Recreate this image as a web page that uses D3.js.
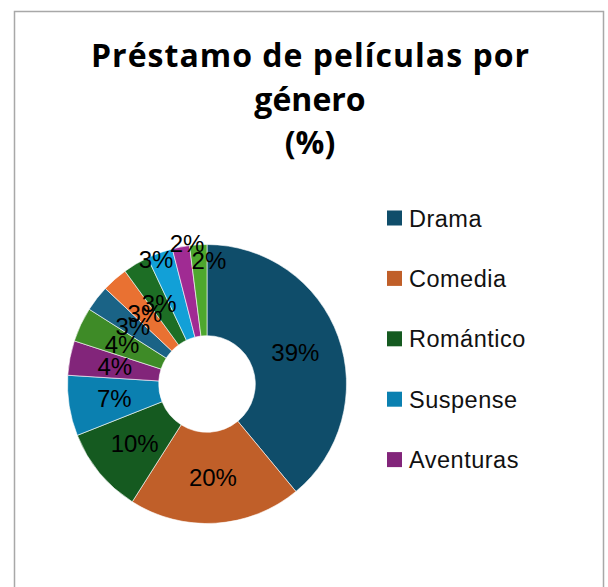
<html>
  <head>
    <style>
    body {
      margin: 0px;
      background: white;
    }
    </style>
  </head>
  <body>
    <div id="elm"></div>

    <script src="https://d3js.org/d3.v7.min.js"></script>
    <script>
    'use strict';

    // chart data
    var genres = ['Drama', 'Comedia', 'Romántico', 'Suspense', 'Aventuras',
                  'Género 6', 'Género 7', 'Género 8', 'Género 9', 'Género 10', 'Género 11', 'Género 12'];
    var shares = [39, 20, 10, 7, 4, 4, 3, 3, 3, 3, 2, 2];
    var colors = ['#0F4D6A', '#C05F29', '#155A20', '#0B80B0', '#82257A', '#3E8B27',
                  '#1A6386', '#E97132', '#1D6E25', '#12A0D7', '#A02B93', '#4EA72E'];
    var titleLines = ['Préstamo de películas por', 'género', '(%)'];
    var legendShown = 5; // excel only had room for the first five entries

    // labels excel pushed out of the crowded top-left corner (radius px, angle shift deg)
    var labelNudge = { 9: [135, -2.4], 10: [142, 2.7], 11: [124, 4.5] };

    var W = 608, H = 587;
    var cx = 207, cy = 384, rOuter = 139.5, rInner = 48.3;

    var svg = d3.select('#elm').append('svg')
      .attr('width', W).attr('height', H)
      .style('display', 'block');

    svg.append('rect').attr('width', W).attr('height', H).attr('fill', 'white');

    // chart frame (bottom edge is cut off by the screenshot)
    svg.append('path')
      .attr('d', 'M14.5,' + (H + 5) + 'V11.5H603.5V' + (H + 5))
      .attr('fill', 'none')
      .attr('stroke', '#A8A8A8')
      .attr('stroke-width', 1.5);

    // title
    var title = svg.append('text')
      .attr('text-anchor', 'middle')
      .attr('font-family', '"Open Sans", Roboto, sans-serif')
      .attr('font-weight', 700)
      .attr('font-size', 32)
      .attr('fill', '#000');
    title.selectAll('tspan').data(titleLines).join('tspan')
      .attr('x', 310)
      .attr('y', function(d, i) { return 67 + i * 43.5; })
      .text(function(d) { return d; });

    // first line is a bit wider in the original (Aptos)
    title.select('tspan')
      .attr('textLength', 438)
      .attr('lengthAdjust', 'spacing');

    var color = d3.scaleOrdinal().domain(genres).range(colors);

    var pie = d3.pie().sort(null).value(function(d, i) { return shares[i]; });
    var arcs = pie(genres);

    var arc = d3.arc().innerRadius(rInner).outerRadius(rOuter);

    var g = svg.append('g').attr('transform', 'translate(' + cx + ',' + cy + ')');

    g.selectAll('path.slice').data(arcs).join('path')
      .attr('class', 'slice')
      .attr('d', arc)
      .attr('fill', function(d) { return color(d.data); })
      .attr('stroke', 'white')
      .attr('stroke-width', 0.6);

    var labelPos = function(d, i) {
      var mid = (d.startAngle + d.endAngle) / 2;
      var r = (rInner + rOuter) / 2;
      if (labelNudge[i]) {
        r = labelNudge[i][0];
        mid += labelNudge[i][1] * Math.PI / 180;
      }
      return [r * Math.sin(mid), -r * Math.cos(mid)];
    };

    g.selectAll('text.lbl').data(arcs).join('text')
      .attr('class', 'lbl')
      .attr('x', function(d, i) { return labelPos(d, i)[0]; })
      .attr('y', function(d, i) { return labelPos(d, i)[1]; })
      .attr('dy', '0.36em')
      .attr('text-anchor', 'middle')
      .attr('font-family', '"Liberation Sans", Arial, sans-serif')
      .attr('font-size', 24)
      .attr('fill', '#000')
      .text(function(d, i) { return shares[i] + '%'; });

    // legend
    var legend = svg.append('g').attr('transform', 'translate(387,0)');
    var rows = legend.selectAll('g').data(genres.slice(0, legendShown)).join('g')
      .attr('transform', function(d, i) { return 'translate(0,' + (218 + i * 60.4) + ')'; });
    rows.append('rect')
      .attr('x', 0).attr('y', -7.5)
      .attr('width', 15).attr('height', 15)
      .attr('fill', function(d) { return color(d); });
    rows.append('text')
      .attr('x', 22)
      .attr('y', 8.5)
      .attr('font-family', '"Liberation Sans", Arial, sans-serif')
      .attr('font-size', 23.5)
      .attr('letter-spacing', 0.5)
      .attr('fill', '#111')
      .text(function(d) { return d; });
    </script>
  </body>
</html>
